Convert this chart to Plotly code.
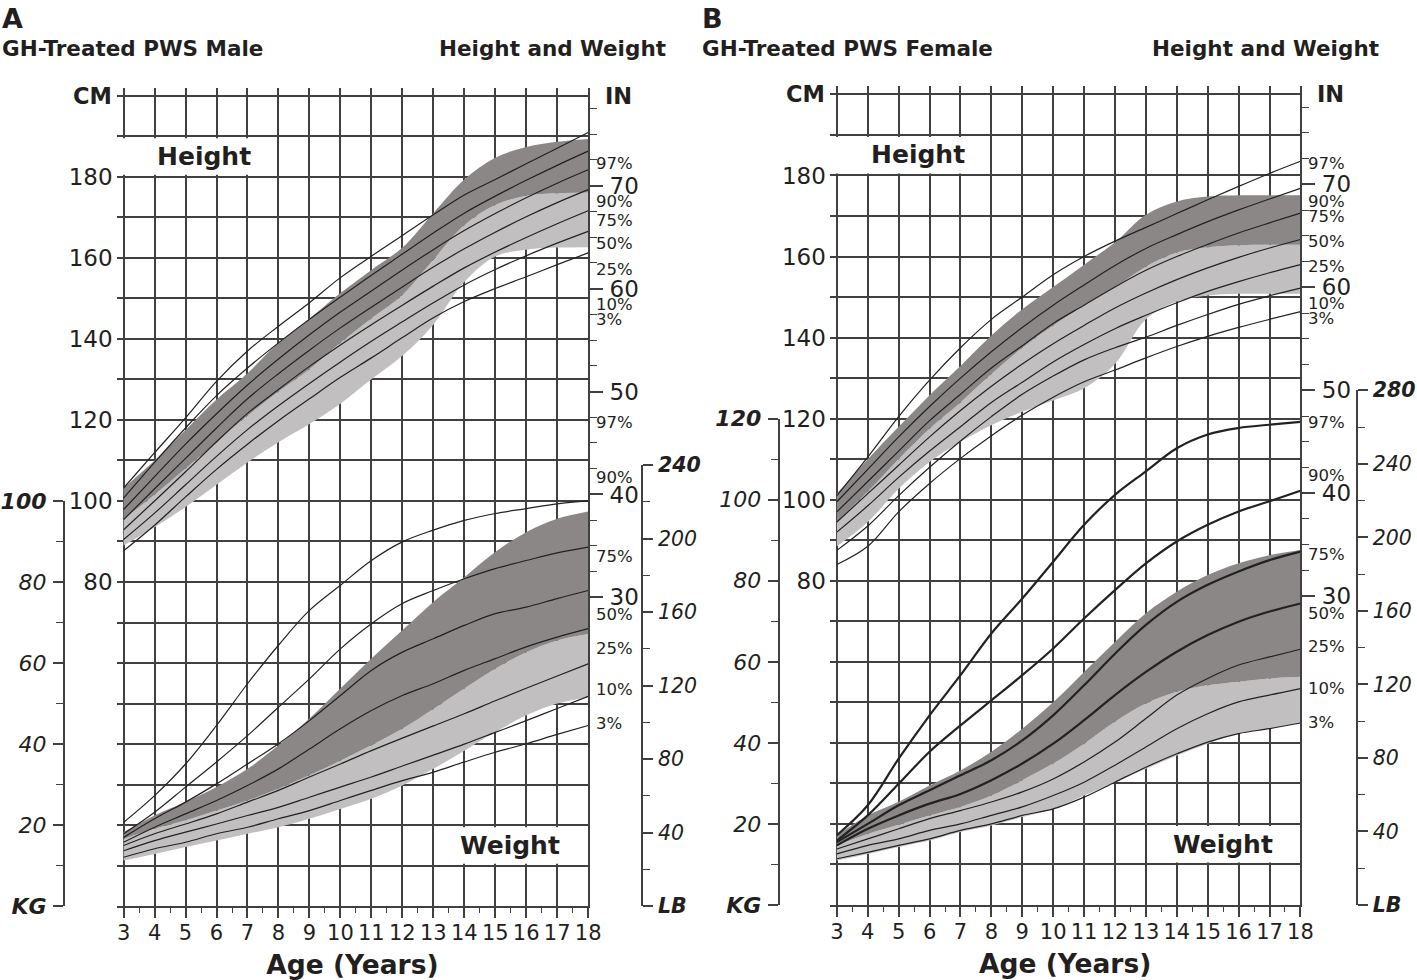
import plotly.graph_objects as go

# the photographed page comes out slightly squeezed and shifted, so every
# reference pixel position below goes through px()/py() before use
SX, SY, OY = 0.994, 0.9735, 11.0
W, H = 1426, 996
TXT = '#231f20'
GRID = '#404040'
LINE = '#222222'
DARK = '#8b8787'
LIGHT = '#c1bfbf'
FONT = 'DejaVu Sans'
LB_PER_KG = 2.20462
CM_PER_IN = 2.54

ages = list(range(3, 19))
pct_names = ['97%', '90%', '75%', '50%', '25%', '10%', '3%']

# ---- A: GH-treated PWS male ----
# height (cm), one list per percentile
a_ht_97 = [103.2, 111.9, 120.5, 129.5, 137.0, 143.1, 148.9, 155.1, 160.4, 165.5, 170.6, 175.5, 179.3, 183.2, 187.0, 190.9]
a_ht_90 = [100.7, 109.5, 118.0, 126.0, 132.8, 139.0, 144.8, 150.3, 155.7, 160.9, 166.1, 171.0, 175.2, 179.1, 182.8, 186.3]
a_ht_75 = [97.9, 106.0, 114.0, 121.5, 128.6, 135.0, 141.0, 146.6, 151.8, 157.0, 162.0, 166.7, 170.9, 174.8, 178.4, 181.7]
a_ht_50 = [95.4, 103.0, 110.5, 118.0, 125.2, 131.4, 137.2, 142.7, 147.8, 152.8, 157.7, 162.2, 166.3, 170.1, 173.6, 176.8]
a_ht_25 = [92.9, 100.0, 107.2, 114.6, 121.6, 127.5, 133.2, 138.5, 143.5, 148.3, 153.0, 157.5, 161.4, 165.0, 168.4, 171.6]
a_ht_10 = [90.5, 97.0, 104.0, 111.0, 117.6, 123.5, 129.0, 134.3, 139.4, 144.2, 148.9, 153.3, 157.1, 160.5, 163.6, 166.5]
a_ht_3 = [87.7, 94.0, 101.0, 107.8, 114.0, 119.8, 125.2, 130.5, 135.3, 140.3, 145.2, 149.2, 152.4, 155.3, 158.3, 161.2]
# shaded reference bands for height (cm)
a_ht_dark_top = [103.2, 110.0, 117.5, 125.0, 131.5, 139.0, 145.0, 151.3, 157.0, 162.5, 171.0, 179.3, 184.7, 187.3, 188.6, 189.3]
a_ht_mid = [95.5, 101.5, 108.0, 114.5, 121.0, 127.0, 132.5, 139.0, 145.0, 150.8, 159.5, 168.0, 173.0, 175.3, 175.9, 176.1]
a_ht_light_low = [89.0, 93.5, 98.5, 104.0, 109.5, 114.5, 119.0, 124.0, 130.0, 135.8, 143.5, 154.0, 160.3, 162.0, 162.5, 162.6]

# weight (kg)
a_wt_97 = [20.7, 27.3, 35.1, 44.6, 54.9, 64.4, 73.0, 79.2, 85.3, 89.9, 92.8, 95.2, 96.9, 98.1, 99.3, 100.0]
a_wt_90 = [17.9, 23.2, 29.4, 35.6, 42.1, 49.1, 56.1, 63.5, 69.7, 74.7, 77.9, 80.8, 83.3, 85.3, 87.2, 88.6]
a_wt_75 = [17.0, 21.6, 25.7, 30.2, 35.1, 40.1, 45.8, 52.0, 58.2, 62.7, 66.0, 69.3, 72.2, 73.8, 75.9, 77.9]
a_wt_50 = [15.8, 19.5, 22.8, 26.1, 29.8, 33.9, 38.8, 43.8, 48.3, 52.0, 54.9, 58.2, 61.1, 64.0, 66.4, 68.5]
a_wt_25 = [15.0, 17.9, 20.3, 22.8, 25.7, 28.6, 31.9, 35.1, 38.4, 41.5, 44.5, 47.5, 50.7, 53.8, 56.8, 59.8]
a_wt_10 = [13.7, 16.2, 18.3, 20.3, 22.4, 24.4, 26.9, 29.4, 31.9, 34.6, 37.3, 40.0, 42.9, 45.8, 48.8, 51.8]
a_wt_3 = [12.1, 14.2, 15.8, 17.9, 19.5, 21.6, 23.6, 26.1, 28.6, 31.0, 33.1, 35.6, 38.0, 40.1, 42.4, 44.6]
a_wt_dark_top = [18.3, 22.4, 25.7, 29.4, 33.9, 39.7, 46.3, 53.7, 61.1, 68.1, 75.1, 81.2, 87.4, 92.3, 95.6, 97.4]
a_wt_mid = [16.6, 19.1, 21.2, 23.6, 26.1, 29.0, 32.3, 35.9, 39.7, 43.8, 48.7, 53.7, 58.6, 62.7, 65.6, 67.2]
a_wt_light_low = [11.3, 12.9, 14.6, 16.2, 17.9, 19.5, 21.6, 24.0, 26.5, 29.8, 33.9, 38.4, 43.0, 47.1, 50.0, 51.6]

# ---- B: GH-treated PWS female ----
b_ht_97 = [101.0, 110.5, 120.5, 129.5, 137.5, 144.5, 150.0, 155.5, 160.0, 163.8, 167.2, 170.6, 174.0, 177.3, 180.5, 183.5]
b_ht_90 = [99.5, 107.5, 115.5, 123.0, 130.0, 136.5, 142.5, 148.0, 153.0, 157.8, 162.0, 165.4, 168.6, 171.5, 174.2, 176.8]
b_ht_75 = [97.0, 104.5, 112.0, 119.5, 126.0, 132.5, 138.0, 143.5, 148.0, 152.5, 156.6, 160.0, 163.0, 165.8, 168.3, 170.7]
b_ht_50 = [94.5, 101.5, 108.5, 115.5, 122.0, 128.0, 133.5, 138.5, 143.0, 147.3, 151.0, 154.3, 157.2, 159.8, 162.1, 164.2]
b_ht_25 = [92.0, 98.5, 105.5, 112.0, 118.0, 124.0, 129.0, 134.0, 138.3, 142.2, 145.5, 148.6, 151.4, 153.8, 156.0, 158.0]
b_ht_10 = [87.5, 93.5, 101.0, 108.0, 114.5, 120.5, 126.0, 130.5, 134.5, 137.5, 140.1, 143.0, 145.7, 148.2, 150.3, 152.2]
b_ht_3 = [84.0, 88.5, 97.0, 104.0, 110.2, 115.8, 120.9, 125.3, 129.1, 132.0, 135.0, 137.8, 140.3, 142.5, 144.5, 146.4]
b_ht_dark_top = [101.5, 110.0, 118.0, 125.8, 133.0, 140.5, 147.0, 152.5, 158.0, 163.5, 170.3, 173.6, 174.8, 175.1, 175.1, 175.1]
b_ht_mid = [94.5, 102.0, 110.0, 117.5, 124.0, 131.0, 137.5, 143.0, 148.0, 152.5, 157.5, 161.0, 162.3, 162.8, 162.9, 162.9]
b_ht_light_low = [88.5, 94.5, 102.7, 109.3, 114.3, 118.4, 121.7, 124.5, 127.5, 133.5, 144.5, 148.9, 150.4, 150.8, 150.8, 150.8]

b_wt_97 = [17.2, 24.6, 36.1, 46.8, 56.7, 67.0, 75.6, 84.7, 93.8, 101.2, 107.0, 112.7, 116.1, 117.7, 118.5, 119.2]
b_wt_90 = [15.9, 22.1, 29.9, 37.8, 44.3, 50.5, 56.7, 63.3, 70.7, 77.7, 84.3, 89.7, 93.8, 97.1, 99.6, 102.2]
b_wt_75 = [15.5, 20.0, 24.6, 28.3, 32.0, 35.7, 40.6, 46.8, 54.2, 62.0, 69.1, 74.8, 79.0, 82.3, 85.1, 87.2]
b_wt_50 = [14.7, 18.8, 22.1, 25.0, 27.4, 30.8, 34.9, 39.8, 45.6, 51.8, 57.5, 62.5, 66.6, 69.9, 72.4, 74.4]
b_wt_25 = [13.8, 16.3, 18.8, 21.3, 23.3, 25.4, 27.9, 31.1, 35.3, 40.2, 46.0, 51.8, 55.9, 59.2, 61.2, 63.1]
b_wt_10 = [12.6, 14.7, 16.3, 18.4, 20.0, 22.1, 24.2, 27.0, 30.3, 34.5, 39.0, 43.5, 47.2, 50.1, 51.8, 53.4]
b_wt_3 = [11.4, 13.0, 14.7, 16.3, 18.4, 20.0, 22.1, 23.7, 26.6, 30.3, 34.0, 37.3, 40.2, 42.3, 43.5, 44.9]
b_wt_dark_top = [17.2, 22.1, 25.5, 29.5, 33.2, 37.8, 43.5, 50.0, 57.5, 64.9, 72.0, 77.3, 81.4, 84.3, 86.3, 87.6]
b_wt_mid = [14.7, 17.5, 19.8, 22.1, 24.2, 27.0, 30.8, 34.9, 39.8, 45.2, 49.7, 52.6, 54.2, 55.1, 55.9, 56.3]
b_wt_light_low = [11.0, 12.6, 14.3, 15.9, 18.0, 19.6, 21.7, 23.7, 27.0, 30.3, 33.6, 36.9, 39.8, 42.3, 43.5, 44.9]

# where the percentile tags sit on the right edge (cm units)
a_ht_tag_y = [183.3, 173.9, 169.2, 163.6, 157.2, 148.5, 144.8]
a_wt_tag_y = [119.3, 105.7, 86.2, 72.1, 63.5, 53.6, 45.0]
b_ht_tag_y = [183.0, 173.6, 169.9, 163.7, 157.6, 148.4, 144.7]
b_wt_tag_y = [119.0, 105.9, 86.6, 71.8, 63.7, 53.5, 45.1]

# panel geometry in reference pixels
panels = [
    dict(n=1, letter='A', title='GH-Treated PWS Male', x3=124, x18=590, y0=904, y200=94.5,
         kg_x=65, lb_x=643, kg_top=100, lb_top=240, left=0, right=670,
         height=[a_ht_97, a_ht_90, a_ht_75, a_ht_50, a_ht_25, a_ht_10, a_ht_3],
         weight=[a_wt_97, a_wt_90, a_wt_75, a_wt_50, a_wt_25, a_wt_10, a_wt_3],
         ht_band=(a_ht_light_low, a_ht_mid, a_ht_dark_top),
         wt_band=(a_wt_light_low, a_wt_mid, a_wt_dark_top),
         ht_tags=a_ht_tag_y, wt_tags=a_wt_tag_y, bold_wt=0),
    dict(n=5, letter='B', title='GH-Treated PWS Female', x3=839.5, x18=1304.5, y0=902.7, y200=93.3,
         kg_x=782, lb_x=1360, kg_top=120, lb_top=280, left=702, right=1385,
         height=[b_ht_97, b_ht_90, b_ht_75, b_ht_50, b_ht_25, b_ht_10, b_ht_3],
         weight=[b_wt_97, b_wt_90, b_wt_75, b_wt_50, b_wt_25, b_wt_10, b_wt_3],
         ht_band=(b_ht_light_low, b_ht_mid, b_ht_dark_top),
         wt_band=(b_wt_light_low, b_wt_mid, b_wt_dark_top),
         ht_tags=b_ht_tag_y, wt_tags=b_wt_tag_y, bold_wt=4),
]


def px(r):
    return r / SX


def py(r):
    return (r - OY) / SY


def fx(r):
    return px(r) / W


def fy(r):
    return 1 - py(r) / H


def sid(k):
    return '' if k == 1 else str(k)


def tfont(size, **kw):
    return dict(family=FONT, size=size, color=TXT, **kw)


fig = go.Figure()
axes = {}
notes = []
shapes = []

for p in panels:
    n = p['n']
    xm, ym = 'x' + sid(n), 'y' + sid(n)
    yin = 'y' + sid(n + 1)
    xkg, ykg = 'x' + sid(n + 2), 'y' + sid(n + 2)
    xlb, ylb = 'x' + sid(n + 3), 'y' + sid(n + 3)
    ppx = (p['x18'] - p['x3']) / 15.0          # reference px per year
    ppc = (p['y0'] - p['y200']) / 200.0        # reference px per cm
    x_lo = 3 - 7 / ppx

    # shaded bands
    for low, mid, top in (p['ht_band'], p['wt_band']):
        fig.add_trace(go.Scatter(x=ages, y=low, mode='lines', line=dict(width=0, shape='spline'),
                                 xaxis=xm, yaxis=ym, showlegend=False, hoverinfo='skip'))
        fig.add_trace(go.Scatter(x=ages, y=mid, mode='lines', fill='tonexty', fillcolor=LIGHT,
                                 line=dict(width=0, shape='spline'),
                                 xaxis=xm, yaxis=ym, showlegend=False, hoverinfo='skip'))
        fig.add_trace(go.Scatter(x=ages, y=top, mode='lines', fill='tonexty', fillcolor=DARK,
                                 line=dict(width=0, shape='spline'),
                                 xaxis=xm, yaxis=ym, showlegend=False, hoverinfo='skip'))

    # percentile curves
    for name, vals in zip(pct_names, p['height']):
        fig.add_trace(go.Scatter(x=ages, y=vals, mode='lines', name='Height ' + name,
                                 line=dict(color=LINE, width=1.2, shape='spline'),
                                 xaxis=xm, yaxis=ym, showlegend=False))
    for k, (name, vals) in enumerate(zip(pct_names, p['weight'])):
        w = 2.2 if k < p['bold_wt'] else 1.2
        fig.add_trace(go.Scatter(x=ages, y=vals, mode='lines', name='Weight ' + name,
                                 line=dict(color=LINE, width=w, shape='spline'),
                                 xaxis=xm, yaxis=ym, showlegend=False))

    # empty traces so the side axes get drawn
    for xa, ya in ((xm, yin), (xkg, ykg), (xlb, ylb)):
        fig.add_trace(go.Scatter(x=[None], y=[None], xaxis=xa, yaxis=ya,
                                 showlegend=False, hoverinfo='skip'))

    top_px = p['y0'] - 202 * ppc
    axes['xaxis' + sid(n)] = dict(
        domain=[fx(p['x3'] - 7), fx(p['x18'])], range=[x_lo, 18], anchor=ym,
        tickmode='array', tickvals=ages, ticktext=[str(a) for a in ages], tickangle=0,
        ticks='outside', ticklen=10, tickwidth=1.6, tickcolor=GRID,
        showline=True, linecolor=GRID, linewidth=1.7,
        showgrid=True, gridcolor=GRID, gridwidth=1.7, zeroline=False,
        minor=dict(tickmode='array', tickvals=[a + 0.5 for a in ages[:-1]], ticks='outside',
                   ticklen=5, tickwidth=1.3, tickcolor=GRID, showgrid=False),
        tickfont=tfont(21), ticklabelstandoff=-3,
        title=dict(text='<b>Age (Years)</b>', font=tfont(26.5), standoff=11),
        fixedrange=True)
    axes['yaxis' + sid(n)] = dict(
        domain=[fy(p['y0']), fy(top_px)], range=[0, 202], anchor=xm,
        tickmode='array', tickvals=list(range(0, 201, 10)),
        ticktext=[str(v) if 80 <= v <= 180 and v % 20 == 0 else '' for v in range(0, 201, 10)],
        ticks='', showgrid=True, gridcolor=GRID, gridwidth=1.7, zeroline=False,
        showline=False, tickfont=tfont(23), ticklabelstandoff=3, fixedrange=True)
    in_major = [30, 40, 50, 60, 70]
    in_minor = [30 + 2.5 * k for k in range(20) if (30 + 2.5 * k) % 10 != 0]
    axes['yaxis' + sid(n + 1)] = dict(
        overlaying=ym, side='right', anchor=xm, range=[0, 202 / CM_PER_IN],
        tickmode='array', tickvals=in_major, ticktext=[str(v) for v in in_major],
        ticks='outside', ticklen=13, tickwidth=1.6, tickcolor=GRID,
        minor=dict(tickmode='array', tickvals=in_minor, ticks='outside', ticklen=7,
                   tickwidth=1.3, tickcolor=GRID),
        showline=True, linecolor=GRID, linewidth=1.7, showgrid=False, zeroline=False,
        tickfont=tfont(23), ticklabelstandoff=2, fixedrange=True)

    kg_top = p['kg_top']
    kg_vals = list(range(0, kg_top + 1, 20))
    kg_text = ['<b>KG</b>'] + [str(v) for v in kg_vals[1:-1]] + ['<b>%d</b>' % kg_top]
    axes['xaxis' + sid(n + 2)] = dict(domain=[fx(p['kg_x']), fx(p['kg_x'] + 5)],
                                      anchor=ykg, visible=False, range=[0, 1])
    axes['yaxis' + sid(n + 2)] = dict(
        anchor=xkg, side='left', domain=[fy(p['y0']), fy(p['y0'] - kg_top * ppc)],
        range=[0, kg_top], tickmode='array', tickvals=kg_vals, ticktext=kg_text,
        ticks='outside', ticklen=10, tickwidth=1.6, tickcolor=GRID,
        minor=dict(tickmode='array', tickvals=list(range(10, kg_top, 20)), ticks='outside',
                   ticklen=7, tickwidth=1.3, tickcolor=GRID),
        showline=True, linecolor=GRID, linewidth=1.7, showgrid=False, zeroline=False,
        tickfont=tfont(22, style='italic'), ticklabelstandoff=2, fixedrange=True)

    lb_top = p['lb_top']
    lb_vals = list(range(0, lb_top + 1, 40))
    lb_text = ['<b>LB</b>'] + [str(v) for v in lb_vals[1:-1]] + ['<b>%d</b>' % lb_top]
    axes['xaxis' + sid(n + 3)] = dict(domain=[fx(p['lb_x'] - 5), fx(p['lb_x'])],
                                      anchor=ylb, visible=False, range=[0, 1])
    axes['yaxis' + sid(n + 3)] = dict(
        anchor=xlb, side='right',
        domain=[fy(p['y0']), fy(p['y0'] - lb_top / LB_PER_KG * ppc)],
        range=[0, lb_top], tickmode='array', tickvals=lb_vals, ticktext=lb_text,
        ticks='outside', ticklen=10, tickwidth=1.6, tickcolor=GRID,
        minor=dict(tickmode='array', tickvals=list(range(20, lb_top, 40)), ticks='outside',
                   ticklen=7, tickwidth=1.3, tickcolor=GRID),
        showline=True, linecolor=GRID, linewidth=1.7, showgrid=False, zeroline=False,
        tickfont=tfont(20.5, style='italic'), ticklabelstandoff=1, fixedrange=True)

    # white label boxes over the grid
    shapes.append(dict(type='rect', xref=xm, yref=ym, x0=x_lo, x1=7.86, y0=180.5, y1=189.5,
                       fillcolor='white', line=dict(width=0), layer='above'))
    shapes.append(dict(type='rect', xref=xm, yref=ym, x0=13.55, x1=17.82, y0=10.5, y1=19.5,
                       fillcolor='white', line=dict(width=0), layer='above'))

    notes.append(dict(text='<b>Height</b>', x=5.61, y=185.1, xref=xm, yref=ym,
                      showarrow=False, font=tfont(25)))
    notes.append(dict(text='<b>Weight</b>', x=15.49, y=15.0, xref=xm, yref=ym,
                      showarrow=False, font=tfont(25)))
    notes.append(dict(text='<b>CM</b>', x=x_lo, y=200, xref=xm, yref=ym, xanchor='right',
                      xshift=-3, showarrow=False, font=tfont(22.5)))
    notes.append(dict(text='<b>IN</b>', x=18, y=200, xref=xm, yref=ym, xanchor='left',
                      xshift=15, showarrow=False, font=tfont(22.5)))
    for name, yv in zip(pct_names, p['ht_tags']):
        notes.append(dict(text=name, x=18, y=yv, xref=xm, yref=ym, xanchor='left', xshift=7,
                          showarrow=False, font=tfont(16.5), borderpad=0))
    for name, yv in zip(pct_names, p['wt_tags']):
        notes.append(dict(text=name, x=18, y=yv, xref=xm, yref=ym, xanchor='left', xshift=7,
                          showarrow=False, font=tfont(16.5), borderpad=0))

    # panel headings
    notes.append(dict(text='<b>%s</b>' % p['letter'], x=fx(p['left']), y=fy(17), xref='paper',
                      yref='paper', xanchor='left', yanchor='middle', showarrow=False,
                      font=tfont(27)))
    notes.append(dict(text='<b>%s</b>' % p['title'], x=fx(p['left']), y=fy(47), xref='paper',
                      yref='paper', xanchor='left', yanchor='middle', showarrow=False,
                      font=tfont(21.5)))
    notes.append(dict(text='<b>Height and Weight</b>', x=fx(p['right']), y=fy(47), xref='paper',
                      yref='paper', xanchor='right', yanchor='middle', showarrow=False,
                      font=tfont(21.5)))

fig.update_layout(
    width=W, height=H, autosize=False,
    margin=dict(l=0, r=0, t=0, b=0),
    paper_bgcolor='white', plot_bgcolor='rgba(0,0,0,0)',
    showlegend=False, annotations=notes, shapes=shapes,
    font=dict(family=FONT, color=TXT),
    **axes)

# pin the figure to the window's top-left corner
page_css = ("var s='margin:0;padding:0;overflow:hidden;';"
            "document.documentElement.style.cssText=s;document.body.style.cssText=s;"
            "var gd=document.getElementById('{plot_id}');"
            "gd.style.position='absolute';gd.style.left='0px';gd.style.top='0px';")
fig.write_html('out.html', config={'displayModeBar': False}, post_script=page_css)
